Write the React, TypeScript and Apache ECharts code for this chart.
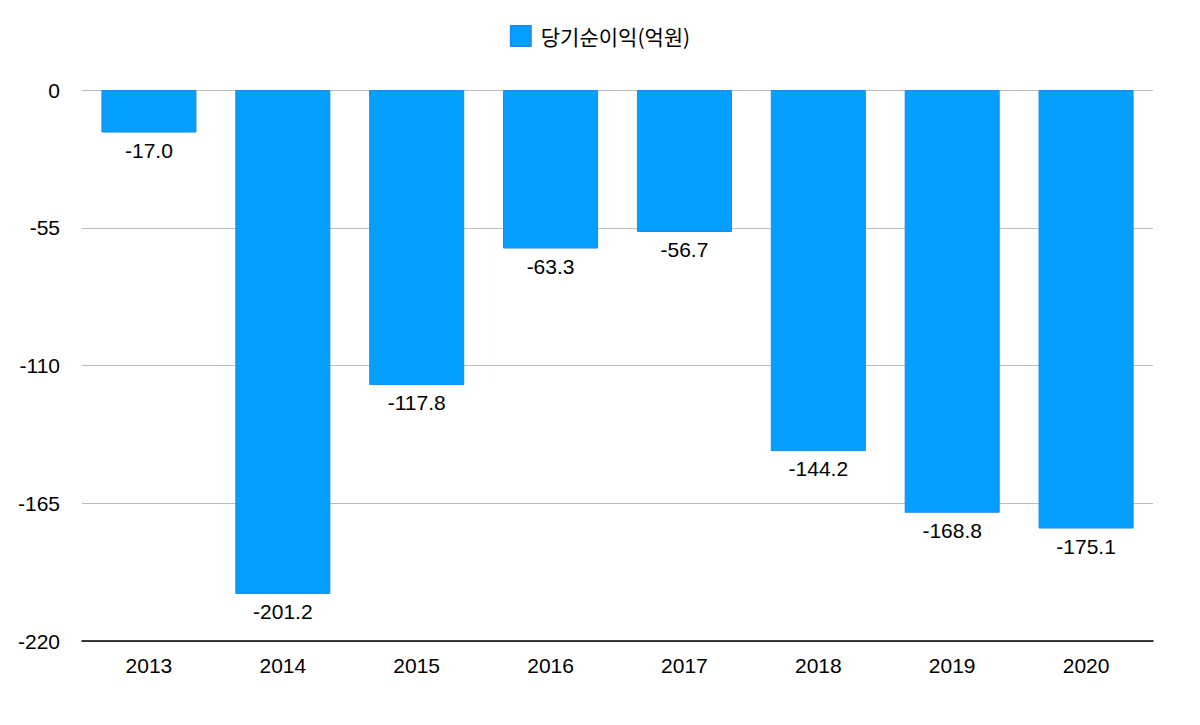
import React, { useEffect, useRef } from "react";
import * as echarts from "echarts";

const categories = ["2013", "2014", "2015", "2016", "2017", "2018", "2019", "2020"];
const netIncome = [-17.0, -201.2, -117.8, -63.3, -56.7, -144.2, -168.8, -175.1];
const seriesName = "당기순이익(억원)";

export default function App() {
  const ref = useRef<HTMLDivElement>(null);
  useEffect(() => {
    const chart = echarts.init(ref.current!, null, { renderer: "svg" });
    const font = "'Liberation Sans', Arial, 'Noto Sans CJK KR', sans-serif";
    chart.setOption({
      animation: false,
      textStyle: { fontFamily: font },
      legend: {
        top: 20,
        left: "center",
        itemWidth: 20,
        itemHeight: 20,
        itemGap: 10,
        textStyle: { fontSize: 21, color: "#000", padding: [0, 0, 0, 5], fontFamily: "'Noto Sans CJK KR', sans-serif" },
        data: [{ name: seriesName, icon: "rect" }],
      },
      grid: { left: 82, right: 47, top: 90, bottom: 84 },
      xAxis: {
        type: "category",
        data: categories,
        position: "bottom",
        axisLine: { onZero: false, lineStyle: { color: "#000", width: 1.5 } },
        axisTick: { show: false },
        axisLabel: { fontSize: 21, color: "#000", margin: 14 },
      },
      yAxis: {
        type: "value",
        min: -220,
        max: 0,
        interval: 55,
        axisLine: { show: false },
        axisTick: { show: false },
        axisLabel: { fontSize: 21, color: "#000", margin: 22 },
        splitLine: { lineStyle: { color: "#bdbdbd", width: 1 } },
      },
      series: [
        {
          name: seriesName,
          type: "bar",
          data: netIncome,
          barWidth: "71%",
          itemStyle: { color: "#05a0ff", borderColor: "#1a8cf0", borderWidth: 1 },
          label: {
            show: true,
            position: "bottom",
            distance: 7,
            fontSize: 21,
            color: "#000",
            formatter: (p: any) => p.value.toFixed(1),
          },
        },
      ],
    });
    return () => chart.dispose();
  }, []);
  return <div ref={ref} style={{ width: 1200, height: 725, margin: -8 }} />;
}
